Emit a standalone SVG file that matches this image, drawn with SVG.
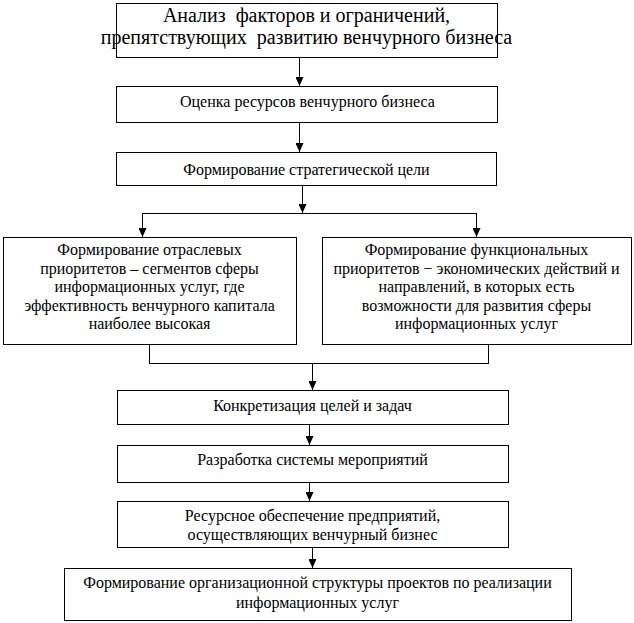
<svg xmlns="http://www.w3.org/2000/svg" width="634" height="623" viewBox="0 0 634 623">
<defs>
<marker id="ah" markerUnits="userSpaceOnUse" markerWidth="9" markerHeight="8" viewBox="0 0 9 8" refX="9" refY="4" orient="auto">
<path d="M0,0 L9,4 L0,8 Z" fill="#000" stroke="none"/>
</marker>
</defs>
<rect width="634" height="623" fill="#fff"/>
<g id="connectors" stroke="#000" stroke-width="1" fill="none" shape-rendering="crispEdges">
<line x1="299.5" y1="57" x2="299.5" y2="86" marker-end="url(#ah)"/>
<line x1="299.5" y1="122" x2="299.5" y2="152" marker-end="url(#ah)"/>
<line x1="302.5" y1="185" x2="302.5" y2="213" marker-end="url(#ah)"/>
<polyline points="142.5,237 142.5,213.5 476.5,213.5 476.5,237"/>
<line x1="142.5" y1="220" x2="142.5" y2="237" marker-end="url(#ah)"/>
<line x1="476.5" y1="220" x2="476.5" y2="237" marker-end="url(#ah)"/>
<polyline points="149.5,344 149.5,363.5 488.5,363.5 488.5,344"/>
<line x1="312.5" y1="363" x2="312.5" y2="390" marker-end="url(#ah)"/>
<line x1="309.5" y1="424" x2="309.5" y2="445" marker-end="url(#ah)"/>
<line x1="309.5" y1="482" x2="309.5" y2="501" marker-end="url(#ah)"/>
<line x1="312.5" y1="547" x2="312.5" y2="568" marker-end="url(#ah)"/>
</g>
<g id="boxes" fill="#fff" stroke="#000" stroke-width="1" shape-rendering="crispEdges">
<rect id="r1" x="116.5" y="3.5" width="381" height="54"/>
<rect id="r2" x="116.5" y="86.5" width="381" height="36"/>
<rect id="r3" x="116.5" y="152.5" width="380" height="33"/>
<rect id="r4" x="3.5" y="237.5" width="293" height="107"/>
<rect id="r5" x="322.5" y="237.5" width="309" height="107"/>
<rect id="r6" x="117.5" y="390.5" width="391" height="34"/>
<rect id="r7" x="117.5" y="445.5" width="391" height="37"/>
<rect id="r8" x="117.5" y="501.5" width="391" height="46"/>
<rect id="r9" x="64.5" y="568.5" width="507" height="52"/>
</g>
<g id="labels" fill="#000">
<g id="n1" font-size="20" text-anchor="middle">
<text x="306.5" y="22" font-family="Liberation Serif" xml:space="preserve">Анализ  факторов и ограничений,</text>
<text x="306.5" y="44" font-family="Liberation Serif" xml:space="preserve">препятствующих  развитию венчурного бизнеса</text>
</g>
<g id="n2" font-size="16">
<text x="180" y="107" font-family="Liberation Serif">Оценка ресурсов венчурного бизнеса</text>
</g>
<g id="n3" font-size="16" text-anchor="middle">
<text x="306.5" y="175" font-family="Times New Roman">Формирование стратегической цели</text>
</g>
<g id="n4" font-size="16" text-anchor="middle">
<text x="149.5" y="255" font-family="Liberation Serif">Формирование отраслевых</text>
<text x="149.5" y="273.5" font-family="Liberation Serif">приоритетов – сегментов сферы</text>
<text x="149.5" y="292" font-family="Liberation Serif">информационных услуг, где</text>
<text x="149.5" y="310.5" font-family="Liberation Serif">эффективность венчурного капитала</text>
<text x="149.5" y="329" font-family="Liberation Serif">наиболее высокая</text>
</g>
<g id="n5" font-size="16" text-anchor="middle">
<text x="476.5" y="255" font-family="Liberation Serif">Формирование функциональных</text>
<text x="476.5" y="273.5" font-family="Liberation Serif">приоритетов − экономических действий и</text>
<text x="476.5" y="292" font-family="Liberation Serif">направлений, в которых есть</text>
<text x="476.5" y="310.5" font-family="Liberation Serif">возможности для развития сферы</text>
<text x="476.5" y="329" font-family="Liberation Serif">информационных услуг</text>
</g>
<g id="n6" font-size="16" text-anchor="middle">
<text x="312.5" y="411" font-family="Liberation Serif">Конкретизация целей и задач</text>
</g>
<g id="n7" font-size="16" text-anchor="middle">
<text x="312.5" y="465" font-family="Liberation Serif">Разработка системы мероприятий</text>
</g>
<g id="n8" font-size="16" text-anchor="middle">
<text x="312.5" y="521" font-family="Liberation Serif">Ресурсное обеспечение предприятий,</text>
<text x="312.5" y="540" font-family="Liberation Serif">осуществляющих венчурный бизнес</text>
</g>
<g id="n9" font-size="16" text-anchor="middle">
<text x="317.5" y="588" font-family="Liberation Serif">Формирование организационной структуры проектов по реализации</text>
<text x="317.5" y="608" font-family="Liberation Serif">информационных услуг</text>
</g>
</g>
</svg>
